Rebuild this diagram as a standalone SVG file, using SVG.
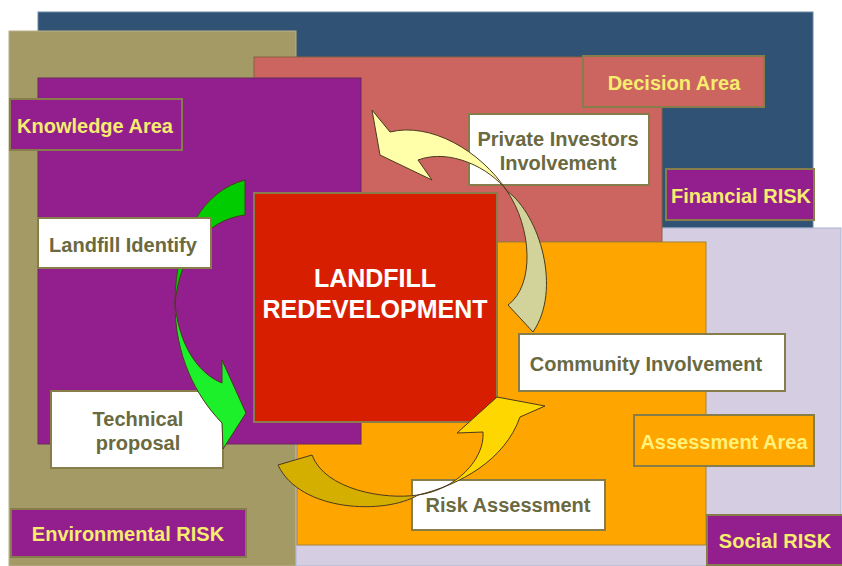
<svg xmlns="http://www.w3.org/2000/svg" width="842" height="566" viewBox="0 0 842 566">
<style>
.lbl{font-family:"Liberation Sans",Arial,sans-serif;font-weight:bold;font-size:20px;text-anchor:middle}
.y{fill:#F6EC6E}
.d{fill:#6A6940}
.box{stroke:#877D4B;stroke-width:2}
.area{stroke-width:1}
.arr{stroke:#4A3A1E;stroke-width:1;stroke-linejoin:miter}
</style>
<rect width="842" height="566" fill="#ffffff"/>
<g id="areas">
<rect id="area-financial" class="area" x="38" y="12" width="775" height="216" fill="#2F5275" stroke="#6F88A6"/>
<rect id="area-environmental" class="area" x="9" y="31" width="287" height="535" fill="#A39A66" stroke="#B9B08A"/>
<rect id="area-social" class="area" x="296" y="228" width="545" height="338" fill="#D5CDE2" stroke="#A9B4D4"/>
<rect id="area-decision" class="area" x="254" y="57" width="408" height="185" fill="#CC6560" stroke="#8A6040"/>
<rect id="area-assessment" class="area" x="297" y="242" width="409" height="303" fill="#FFA500" stroke="#A4823C"/>
<rect id="area-knowledge" class="area" x="38" y="78" width="323" height="366" fill="#931F8F" stroke="#6A2A5A"/>
</g>
<g id="knowledge-area"><rect class="box" x="10" y="99" width="172" height="51" fill="#931F8F"/><text class="lbl y" x="95" y="133">Knowledge Area</text></g>
<g id="decision-area"><rect class="box" x="583" y="56" width="181" height="51" fill="#CC6560"/><text class="lbl y" x="674" y="90">Decision Area</text></g>
<g id="financial-risk"><rect class="box" x="666" y="169" width="148" height="51" fill="#931F8F"/><text class="lbl y" x="741" y="203">Financial RISK</text></g>
<g id="assessment-area"><rect class="box" x="634" y="415" width="180" height="51" fill="#FFA500"/><text class="lbl" fill="#FFF27A" x="724" y="449">Assessment Area</text></g>
<g id="environmental-risk"><rect class="box" x="11" y="509" width="235" height="48" fill="#931F8F"/><text class="lbl y" x="128" y="541">Environmental RISK</text></g>
<g id="social-risk"><rect class="box" x="707" y="515" width="137" height="50" fill="#931F8F"/><text class="lbl y" x="775" y="548">Social RISK</text></g>
<g id="landfill-redevelopment"><rect x="254" y="193" width="243" height="229" fill="#D81E00" stroke="#8B7B4B" stroke-width="2"/><text class="lbl" fill="#ffffff" style="font-size:25px" x="375" y="287">LANDFILL</text><text class="lbl" fill="#ffffff" style="font-size:25px" x="375" y="318">REDEVELOPMENT</text></g>
<g id="technical-proposal"><rect class="box" x="51" y="391" width="172" height="77" fill="#ffffff"/><text class="lbl d" x="138" y="426">Technical</text><text class="lbl d" x="138" y="450">proposal</text></g>
<g id="private-investors"><rect class="box" x="469" y="114" width="180" height="71" fill="#ffffff"/><text class="lbl d" x="558" y="146">Private Investors</text><text class="lbl d" x="558" y="170">Involvement</text></g>
<g id="risk-assessment"><rect class="box" x="412" y="480" width="193" height="50" fill="#ffffff"/><text class="lbl d" x="508" y="512">Risk Assessment</text></g>
<g id="connectors">
<path class="arr" fill="#00CC00" d="M245,180 C205,190 175,235 175,303 C180,255 205,220 245,215 Z"/>
<path class="arr" fill="#1CF02A" d="M175,303 C178,340 195,372 222,383 L222,360 L246,413 L223,449 L222,423 C195,395 175,355 175,303 Z"/>
<path class="arr" fill="#FFFFAA" d="M372,110 L390,132 C430,122 480,150 507,191 C490,168 450,148 418,160 L432,180 L380,155 Z"/>
<path class="arr" fill="#D2D39A" d="M507,191 C540,215 562,290 533,332 L508,305 C535,285 532,228 507,191 Z"/>
<path class="arr" fill="#D4AF00" d="M278,465 L312,455 C325,490 385,500 418,495 C385,515 300,512 278,465 Z"/>
<path class="arr" fill="#FFD700" d="M418,495 C460,485 505,460 520,417 L545,406 L497,397 L457,433 L483,432 C485,460 455,490 418,495 Z"/>
</g>
<g id="landfill-identify"><rect class="box" x="38" y="218" width="173" height="50" fill="#ffffff"/><text class="lbl d" x="123" y="252">Landfill Identify</text></g>
<g id="community-involvement"><rect class="box" x="519" y="334" width="266" height="57" fill="#ffffff"/><text class="lbl d" x="646" y="371">Community Involvement</text></g>
</svg>
